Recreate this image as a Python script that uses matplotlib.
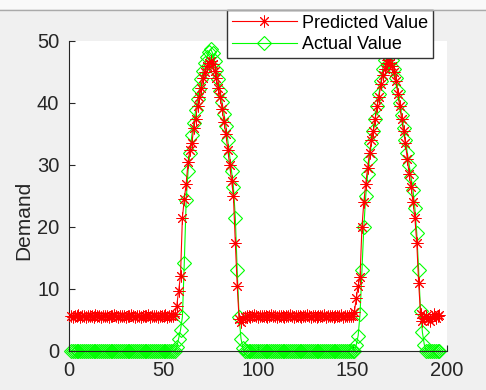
import numpy as np
import matplotlib.pyplot as plt
from matplotlib.patches import Rectangle
from matplotlib.lines import Line2D

plt.rcParams['font.family'] = ['Liberation Sans', 'DejaVu Sans']

# sample index 1..196
hours = np.arange(1, 197)

# actual demand
actual = [
    # 1-55 night
    0, 0, 0, 0, 0, 0, 0, 0, 0, 0, 0, 0, 0, 0, 0, 0, 0, 0, 0, 0,
    0, 0, 0, 0, 0, 0, 0, 0, 0, 0, 0, 0, 0, 0, 0, 0, 0, 0, 0, 0,
    0, 0, 0, 0, 0, 0, 0, 0, 0, 0, 0, 0, 0, 0, 0,
    # 56-93 first peak
    0, 0.6, 2, 3.4, 5.5, 14.2, 24.3, 29, 32, 34.8, 36.8, 38.8, 40.6, 42.3, 43.8, 45.2,
    46.4, 47.4, 48.2, 48.7, 48, 46.8, 45.3, 43.8, 42, 40.2, 38.3, 36.3, 34, 31.5, 29,
    26.5, 21.5, 13, 5.5, 2, 0.5, 0,
    # 94-150 night
    0, 0, 0, 0, 0, 0, 0, 0, 0, 0, 0, 0, 0, 0, 0, 0, 0, 0, 0, 0,
    0, 0, 0, 0, 0, 0, 0, 0, 0, 0, 0, 0, 0, 0, 0, 0, 0, 0, 0, 0,
    0, 0, 0, 0, 0, 0, 0, 0, 0, 0, 0, 0, 0, 0, 0, 0, 0,
    # 151-189 second peak
    0, 1, 2.5, 6, 13, 20, 25, 28.5, 31, 33.5, 35.5, 37.5, 39.5, 41.5, 43.5, 45.5, 47,
    48, 48.6, 48, 47, 45.5, 44, 42, 40, 38, 36, 34, 32, 30, 28, 26, 23, 19, 13, 6.5,
    3, 1, 0,
    # 190-196
    0, 0, 0, 0, 0, 0, 0,
]

# predicted demand
predicted = [
    # 1-55
    5.6, 5.5, 5.7, 5.6, 5.8, 5.5, 5.6, 5.7, 5.5, 5.6, 5.7, 5.6, 5.5, 5.8, 5.6, 5.7,
    5.5, 5.6, 5.7, 5.6, 5.5, 5.7, 5.6, 5.8, 5.6, 5.5, 5.7, 5.6, 5.6, 5.5, 5.7, 5.6,
    5.8, 5.6, 5.5, 5.7, 5.6, 5.5, 5.6, 5.7, 5.6, 5.8, 5.5, 5.6, 5.7, 5.6, 5.5, 5.7,
    5.6, 5.6, 5.8, 5.5, 5.7, 5.6, 5.7,
    # 56-93
    5.9, 7.3, 9.7, 12.1, 21.5, 24.5, 27, 30.5, 32.5, 33.5, 36, 37.5, 39.5, 41, 42.5,
    44, 45, 46, 46.5, 46.8, 46.3, 45.2, 44, 42.5, 41, 39, 37, 35, 32.5, 30, 27.5, 25,
    17.5, 10.5, 5.2, 4.6, 5.1, 5.5,
    # 94-149
    5.6, 5.7, 5.5, 5.6, 5.8, 5.6, 5.5, 5.7, 5.6, 5.6, 5.7, 5.5, 5.6, 5.8, 5.6, 5.7,
    5.5, 5.6, 5.7, 5.6, 5.5, 5.7, 5.6, 5.8, 5.6, 5.5, 5.7, 5.6, 5.6, 5.5, 5.7, 5.6,
    5.8, 5.6, 5.5, 5.7, 5.6, 5.5, 5.6, 5.7, 5.6, 5.8, 5.5, 5.6, 5.7, 5.6, 5.5, 5.7,
    5.6, 5.6, 5.8, 5.5, 5.7, 5.6, 5.7, 5.6,
    # 150-196
    5.7, 6.3, 8.5, 10.5, 12, 20, 24, 27, 29.5, 32, 34, 35.5, 37.5, 39.5, 41, 43,
    44.5, 45.5, 46.5, 47, 46.5, 46, 45, 43.5, 41.5, 39.5, 37.5, 35.5, 33.5, 31, 28.5,
    26.5, 24, 21.5, 17.5, 11, 6, 4.8, 5.3, 5.6, 5.2, 4.8, 5.5, 5.9, 5.4, 5.6, 5.8,
]

x_ticks = [0, 50, 100, 150, 200]
y_ticks = [0, 10, 20, 30, 40, 50]

fig = plt.figure(figsize=(4.86, 3.9), dpi=100, facecolor='#f0f0f0')

# toolbar strip at the top of the screenshot
fig.add_artist(Rectangle((0, 381 / 390), 1, 9 / 390, transform=fig.transFigure,
                         facecolor='#f9f9f9', edgecolor='none'))
fig.add_artist(Line2D([0, 1], [380.5 / 390, 380.5 / 390], transform=fig.transFigure,
                      color='#aaaaaa', lw=1))

ax = fig.add_axes([69 / 486, 39 / 390, 378 / 486, 310 / 390])
ax.set_facecolor('white')

ax.plot(hours, predicted, color='#ff0000', lw=0.8, marker=(8, 2, 0), ms=8.5,
        mew=0.7, label='Predicted Value', clip_on=False, zorder=3)
ax.plot(hours, actual, color='#00ff00', lw=0.8, marker='D', ms=7, mfc='none',
        mew=0.8, label='Actual Value', clip_on=False, zorder=2)

ax.set_xlim(0, 200)
ax.set_ylim(0, 50)
ax.set_xticks(x_ticks)
ax.set_yticks(y_ticks)
ax.set_ylabel('Demand', fontsize=15, color='#262626')
ax.yaxis.set_label_coords(-0.095, 0.42)

for s in ['top', 'right']:
    ax.spines[s].set_visible(False)
for s in ['left', 'bottom']:
    ax.spines[s].set_color('#262626')
    ax.spines[s].set_linewidth(0.8)
ax.tick_params(direction='in', length=4, width=0.8, color='#262626',
               labelsize=14.5, labelcolor='#262626', pad=7)

leg = ax.legend(loc='upper right', bbox_to_anchor=(433 / 486, 380 / 390),
                bbox_transform=fig.transFigure, borderaxespad=0, fontsize=13,
                fancybox=False, framealpha=1, edgecolor='#333333',
                handlelength=3.6, handletextpad=0.3, borderpad=0.25,
                labelspacing=0.25)
leg.get_frame().set_linewidth(1)
leg.set_zorder(10)

fig.savefig('out.png', dpi=100, facecolor=fig.get_facecolor())
